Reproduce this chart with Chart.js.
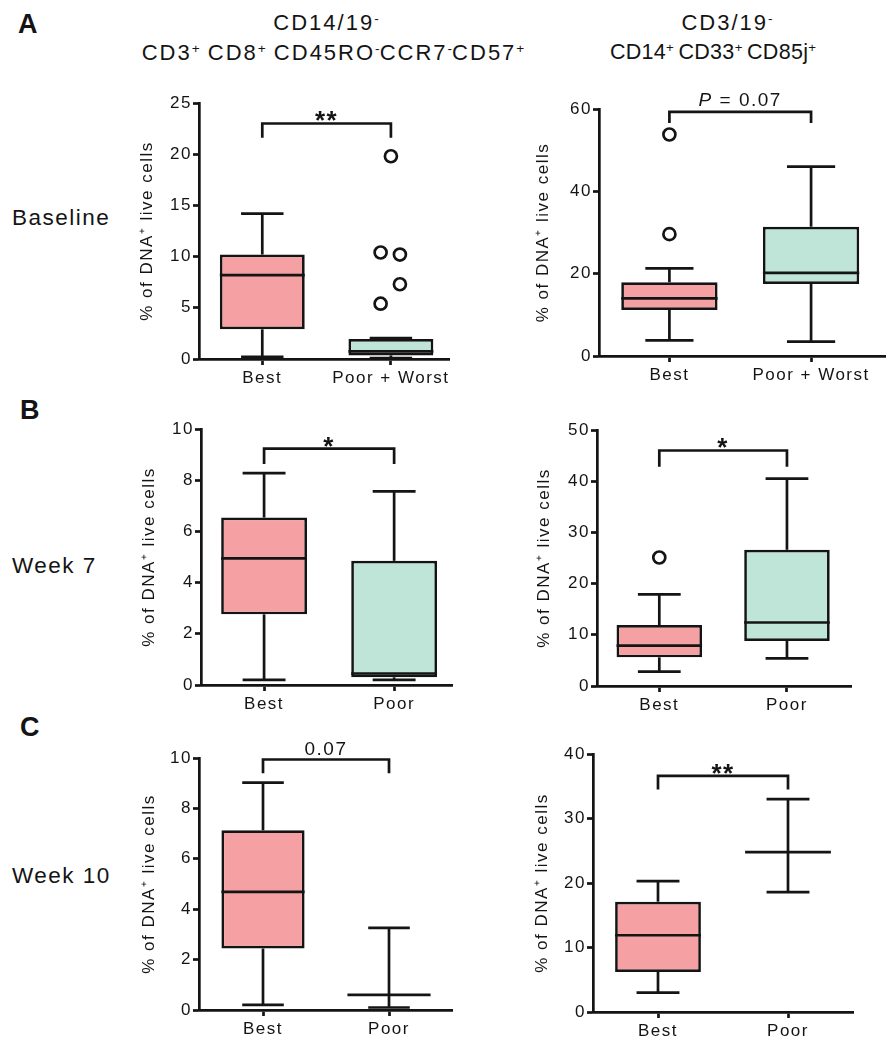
<!DOCTYPE html>
<html>
<head>
<meta charset="utf-8">
<script src="https://cdn.jsdelivr.net/npm/chart.js@4.4.1/dist/chart.umd.min.js"></script>
<style>
  body { margin: 0; background: #fff; overflow: hidden; }
  #page { position: relative; width: 896px; height: 1050px; font-family: 'Liberation Sans', Arial, sans-serif; color: #141414; letter-spacing: 1.5px; }
  .txt { position: absolute; white-space: nowrap; line-height: 1; }
  .hdr { font-size: 22px; width: 460px; text-align: center; letter-spacing: 2px; }
  .tight { font-size: 21.5px; letter-spacing: 0.3px; }
  .row { font-size: 22.5px; left: 12px; }
  .tag { font-size: 27px; font-weight: bold; }
  sup { font-size: 0.62em; vertical-align: 0.5em; line-height: 0; letter-spacing: 0; }
  canvas { position: absolute; }
</style>
</head>
<body>
<div id="page">
  <div class="txt tag" style="left:18px; top:11px">A</div>
  <div class="txt tag" style="left:20px; top:397px">B</div>
  <div class="txt tag" style="left:20px; top:714px">C</div>

  <div class="txt row" style="top:207px">Baseline</div>
  <div class="txt row" style="top:555px">Week 7</div>
  <div class="txt row" style="top:865px">Week 10</div>

  <div class="txt hdr" style="left:96px; top:12px">CD14/19<sup>-</sup></div>
  <div class="txt hdr" style="left:103px; top:42px">CD3<sup>+</sup> CD8<sup>+</sup> CD45RO<sup>-</sup>CCR7<sup>-</sup>CD57<sup>+</sup></div>
  <div class="txt hdr" style="left:497px; top:12px">CD3/19<sup>-</sup></div>
  <div class="txt hdr tight" style="left:483px; top:42px">CD14<sup>+</sup>&thinsp;CD33<sup>+</sup>&thinsp;CD85j<sup>+</sup></div>
</div>
<script>
// groups on the x axis
const groupsA = ['Best', 'Poor + Worst'];
const groupsLater = ['Best', 'Poor'];

// A, baseline, CD8+ CD57+ cells
const a1Low = [0.2, 0.1];
const a1Q1 = [2.9, 0.35];
const a1Median = [8.2, 0.75];
const a1Q3 = [10.2, 1.95];
const a1High = [14.2, 2.05];
const a1OutX = [2, 1.92, 2.07, 2.07, 1.92];
const a1OutY = [19.8, 10.4, 10.2, 7.3, 5.4];
const a1Ticks = [0, 5, 10, 15, 20, 25];

// A, baseline, CD14+ CD33+ CD85j+ cells
const a2Low = [3.8, 3.5];
const a2Q1 = [11.2, 17.5];
const a2Median = [14.0, 20.2];
const a2Q3 = [17.9, 31.4];
const a2High = [21.3, 46.0];
const a2OutX = [1, 1];
const a2OutY = [53.8, 29.6];
const a2Ticks = [0, 20, 40, 60];

// B, week 7
const b1Low = [0.2, 0.2];
const b1Q1 = [2.76, 0.3];
const b1Median = [4.95, 0.45];
const b1Q3 = [6.54, 4.85];
const b1High = [8.28, 7.56];
const b1OutX = [];
const b1OutY = [];
const b1Ticks = [0, 2, 4, 6, 8, 10];

const b2Low = [2.8, 5.4];
const b2Q1 = [5.6, 8.8];
const b2Median = [7.9, 12.4];
const b2Q3 = [11.9, 26.6];
const b2High = [17.9, 40.5];
const b2OutX = [1];
const b2OutY = [25.1];
const b2Ticks = [0, 10, 20, 30, 40, 50];

// C, week 10
const c1Low = [0.2, 0.1];
const c1Q1 = [2.44, 0.6];
const c1Median = [4.69, 0.6];
const c1Q3 = [7.13, 0.6];
const c1High = [9.02, 3.26];
const c1OutX = [];
const c1OutY = [];
const c1Ticks = [0, 2, 4, 6, 8, 10];

const c2Low = [3.0, 18.6];
const c2Q1 = [6.2, 24.8];
const c2Median = [11.9, 24.8];
const c2Q3 = [17.1, 24.8];
const c2High = [20.3, 33.0];
const c2OutX = [];
const c2OutY = [];
const c2Ticks = [0, 10, 20, 30, 40];

// significance brackets, one per panel (A left, A right, B left, B right, C left, C right)
const sigLabels = ['**', 'P = 0.07', '*', '*', '0.07', '**'];
const bracketTop = [23.0, 59.3, 9.23, 46.0, 9.94, 36.6];
const bracketLeg = [21.6, 56.6, 8.63, 42.8, 9.39, 34.5];

const ink = '#141414';
const lineW = 2.7;
const boxColors = ['#f5a1a3', '#bee5d7'];
const yTitle = '% of DNA\u207A live cells';

Chart.defaults.font.family = "'Liberation Sans', Arial, sans-serif";
Chart.defaults.color = ink;
Chart.defaults.animation = false;

// page placement of each plot: canvas left, y axis x, y of top tick, y of zero, x axis end
const layouts = [
  { left: 137, axisX: 199, top: 103, zero: 359, right: 452, xMin: 0.508, xMax: 2.454, box: 0.66 },
  { left: 533, axisX: 599, top: 109, zero: 356, right: 888, xMin: 0.503, xMax: 2.524, box: 0.68 },
  { left: 139, axisX: 201, top: 429, zero: 685, right: 452, xMin: 0.515, xMax: 2.445, box: 0.66 },
  { left: 534, axisX: 597, top: 430, zero: 686, right: 854, xMin: 0.512, xMax: 2.504, box: 0.67 },
  { left: 139, axisX: 199, top: 758, zero: 1010, right: 452, xMin: 0.492, xMax: 2.5, box: 0.66 },
  { left: 532, axisX: 593, top: 754, zero: 1012, right: 853, xMin: 0.5, xMax: 2.5, box: 0.66 }
];

const panels = [
  { groups: groupsA, low: a1Low, q1: a1Q1, median: a1Median, q3: a1Q3, high: a1High, outX: a1OutX, outY: a1OutY, ticks: a1Ticks },
  { groups: groupsA, low: a2Low, q1: a2Q1, median: a2Median, q3: a2Q3, high: a2High, outX: a2OutX, outY: a2OutY, ticks: a2Ticks },
  { groups: groupsLater, low: b1Low, q1: b1Q1, median: b1Median, q3: b1Q3, high: b1High, outX: b1OutX, outY: b1OutY, ticks: b1Ticks },
  { groups: groupsLater, low: b2Low, q1: b2Q1, median: b2Median, q3: b2Q3, high: b2High, outX: b2OutX, outY: b2OutY, ticks: b2Ticks },
  { groups: groupsLater, low: c1Low, q1: c1Q1, median: c1Median, q3: c1Q3, high: c1High, outX: c1OutX, outY: c1OutY, ticks: c1Ticks },
  { groups: groupsLater, low: c2Low, q1: c2Q1, median: c2Median, q3: c2Q3, high: c2High, outX: c2OutX, outY: c2OutY, ticks: c2Ticks }
];

// wider text like the figure
const spacing = {
  id: 'spacing',
  beforeUpdate(chart) { chart.ctx.letterSpacing = '1.5px'; },
  beforeDraw(chart) { chart.ctx.letterSpacing = '1.5px'; }
};

// whiskers, caps, medians and the significance bracket
const whiskers = {
  id: 'whiskers',
  afterDatasetsDraw(chart, args, o) {
    const ctx = chart.ctx;
    const x = chart.scales.x, y = chart.scales.y;
    const bars = chart.getDatasetMeta(0).data;
    const seg = (x1, y1, x2, y2) => { ctx.beginPath(); ctx.moveTo(x1, y1); ctx.lineTo(x2, y2); ctx.stroke(); };
    ctx.save();
    ctx.strokeStyle = ink;
    ctx.lineWidth = lineW;
    o.p.median.forEach((m, i) => {
      const cx = x.getPixelForValue(i + 1);
      const half = bars[i].width / 2;
      const yLo = y.getPixelForValue(o.p.low[i]);
      const yHi = y.getPixelForValue(o.p.high[i]);
      seg(cx, y.getPixelForValue(o.p.q3[i]), cx, yHi);
      seg(cx, y.getPixelForValue(o.p.q1[i]), cx, yLo);
      seg(cx - half / 2, yHi, cx + half / 2, yHi);
      seg(cx - half / 2, yLo, cx + half / 2, yLo);
      const ym = y.getPixelForValue(m);
      seg(cx - half, ym, cx + half, ym);
    });

    const x1 = x.getPixelForValue(1), x2 = x.getPixelForValue(2);
    const yt = y.getPixelForValue(bracketTop[o.k]), yl = y.getPixelForValue(bracketLeg[o.k]);
    ctx.beginPath();
    ctx.moveTo(x1, yl); ctx.lineTo(x1, yt); ctx.lineTo(x2, yt); ctx.lineTo(x2, yl);
    ctx.stroke();

    const label = sigLabels[o.k];
    const mid = (x1 + x2) / 2;
    ctx.fillStyle = ink;
    ctx.textBaseline = 'alphabetic';
    ctx.textAlign = 'left';
    ctx.letterSpacing = '1.5px';
    if (/^\*+$/.test(label)) {
      ctx.font = "bold 26px 'Liberation Sans', Arial, sans-serif";
      const w = ctx.measureText(label).width;
      ctx.fillText(label, mid - w / 2, yt + 6);
    } else if (label.startsWith('P ')) {
      const rest = label.slice(1);
      ctx.font = "italic 19px 'Liberation Sans', Arial, sans-serif";
      const wp = ctx.measureText('P').width;
      ctx.font = "19px 'Liberation Sans', Arial, sans-serif";
      const wr = ctx.measureText(rest).width;
      const sx = mid - (wp + wr) / 2;
      ctx.font = "italic 19px 'Liberation Sans', Arial, sans-serif";
      ctx.fillText('P', sx, yt - 6);
      ctx.font = "19px 'Liberation Sans', Arial, sans-serif";
      ctx.fillText(rest, sx + wp, yt - 6);
    } else {
      ctx.font = "19px 'Liberation Sans', Arial, sans-serif";
      const w = ctx.measureText(label).width;
      ctx.fillText(label, mid - w / 2, yt - 5);
    }
    ctx.restore();
  }
};

const page = document.getElementById('page');
const padTop = 28, padRight = 6, xAxisHeight = 40;

panels.forEach((p, k) => {
  const g = layouts[k];
  const canvas = document.createElement('canvas');
  const top = g.top - padTop;
  canvas.width = g.right + padRight - g.left;
  canvas.height = g.zero + xAxisHeight - top;
  canvas.style.left = g.left + 'px';
  canvas.style.top = top + 'px';
  page.appendChild(canvas);

  const axisLines = {
    border: { display: true, color: ink, width: lineW },
    grid: { display: true, drawOnChartArea: false, drawTicks: true, tickLength: 6, tickWidth: lineW, tickColor: ink, color: ink, offset: false }
  };

  new Chart(canvas, {
    type: 'bar',
    data: {
      datasets: [
        {
          type: 'bar',
          data: p.groups.map((grp, i) => ({ x: i + 1, y: [p.q1[i], p.q3[i]] })),
          backgroundColor: boxColors,
          borderColor: ink,
          borderWidth: lineW,
          borderSkipped: false,
          barPercentage: g.box,
          categoryPercentage: 1
        },
        {
          type: 'scatter',
          data: p.outX.map((v, i) => ({ x: v, y: p.outY[i] })),
          pointRadius: 6,
          pointBorderWidth: lineW,
          backgroundColor: '#fff',
          borderColor: ink
        }
      ]
    },
    options: {
      responsive: false,
      events: [],
      layout: { padding: { top: padTop, right: padRight, left: 0, bottom: 0 } },
      plugins: { legend: { display: false }, tooltip: { enabled: false }, whiskers: { p: p, k: k } },
      scales: {
        x: {
          type: 'linear',
          min: g.xMin,
          max: g.xMax,
          offset: false,
          afterBuildTicks: s => { s.ticks = [{ value: 1 }, { value: 2 }]; },
          afterFit: s => { s.height = xAxisHeight; },
          ...axisLines,
          ticks: { font: { size: 17 }, color: ink, padding: 3, autoSkip: false, maxRotation: 0,
                   callback: (v, i) => p.groups[i] }
        },
        y: {
          type: 'linear',
          min: 0,
          max: p.ticks[p.ticks.length - 1],
          afterBuildTicks: s => { s.ticks = p.ticks.map(v => ({ value: v })); },
          afterFit: s => { s.width = g.axisX - g.left; },
          ...axisLines,
          ticks: { font: { size: 17 }, color: ink, padding: 1 },
          title: { display: true, text: yTitle, font: { size: 17 }, color: ink, padding: 0 }
        }
      }
    },
    plugins: [spacing, whiskers]
  });
});
</script>
</body>
</html>
